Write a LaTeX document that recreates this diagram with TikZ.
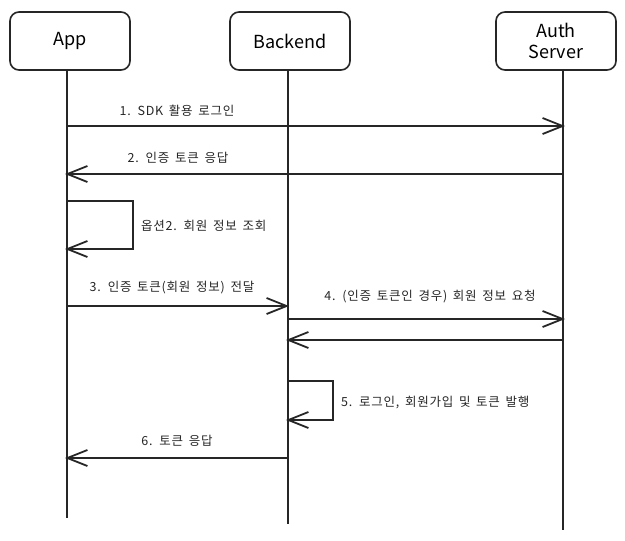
\documentclass[tikz,border=0pt]{standalone}
\usepackage{fontspec}
\setmainfont{Noto Sans CJK KR}
\newfontfamily\lblfont[LetterSpace=6,WordSpace=1.6]{Noto Sans CJK KR}
\usetikzlibrary{arrows.meta}
\tikzset{
  actor/.style={draw=black!85, line width=1.6pt, rounded corners=9pt, minimum width=120pt, minimum height=58pt, align=center, font=\fontsize{18}{21}\selectfont},
  life/.style={draw=black!85, line width=1.5pt},
  msg/.style={draw=black!85, line width=1.8pt, -{Straight Barb[length=20pt,width=16pt,line width=1.8pt]}},
  lbl/.style={font=\lblfont\fontsize{12.5}{14}\selectfont, text=black!85, inner sep=0pt}
}
\begin{document}
\begin{tikzpicture}[x=1pt,y=-1pt]
\useasboundingbox[fill=white] (0,0) rectangle (625,541);
\node[actor] (app) at (70,41) {App};
\node[actor] (be) at (290,41) {Backend};
\node[actor] (auth) at (556,41) {Auth\\[0pt]Server};
\coordinate (appE) at (67,518);
\coordinate (beE) at (288,524);
\coordinate (authE) at (563,530);
\draw[life] (app.south -| appE) -- (appE);
\draw[life] (be.south -| beE) -- (beE);
\draw[life] (auth.south -| authE) -- (authE);
% 1
\coordinate (a1) at (67,126); \coordinate (c1) at (565,126);
\draw[msg] (a1) -- (c1);
\node[lbl] (l1) at (177,111) {1. SDK 활용 로그인};
% 2
\coordinate (c2) at (563,174); \coordinate (a2) at (65,174);
\draw[msg] (c2) -- (a2);
\node[lbl] (l2) at (178,158) {2. 인증 토큰 응답};
% self app
\coordinate (s1) at (67,201); \coordinate (s2) at (133,201);
\coordinate (s3) at (133,249); \coordinate (s4) at (65,249);
\draw[msg] (s1) -- (s2) -- (s3) -- (s4);
\node[lbl, anchor=west] (l2b) at (141,226) {옵션2. 회원 정보 조회};
% 3
\coordinate (a3) at (67,306); \coordinate (b3) at (289,306);
\draw[msg] (a3) -- (b3);
\node[lbl] (l3) at (172,288) {3. 인증 토큰(회원 정보) 전달};
% 4
\coordinate (b4) at (288,319); \coordinate (c4) at (565,319);
\draw[msg] (b4) -- (c4);
\node[lbl] (l4) at (430,297) {4. (인증 토큰인 경우) 회원 정보 요청};
% 4 return
\coordinate (c5) at (563,340); \coordinate (b5) at (286,340);
\draw[msg] (c5) -- (b5);
% self backend
\coordinate (t1) at (288,381); \coordinate (t2) at (333,381);
\coordinate (t3) at (333,420); \coordinate (t4) at (286,420);
\draw[msg] (t1) -- (t2) -- (t3) -- (t4);
\node[lbl, anchor=west] (l5) at (341,403) {5. 로그인, 회원가입 및 토큰 발행};
% 6
\coordinate (b6) at (288,458); \coordinate (a6) at (65,458);
\draw[msg] (b6) -- (a6);
\node[lbl] (l6) at (177,441) {6. 토큰 응답};
\end{tikzpicture}
\end{document}
